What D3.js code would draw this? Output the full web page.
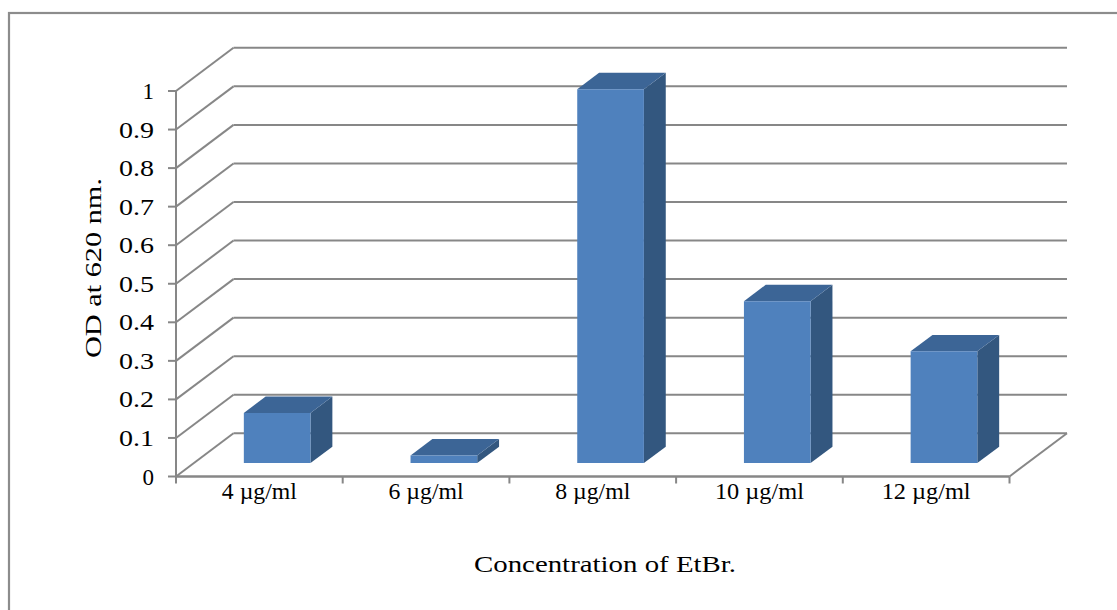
<!DOCTYPE html>
<html>
<head>
<meta charset="utf-8">
<script src="https://cdn.jsdelivr.net/npm/d3@7"></script>
<style>
  html, body { margin: 0; padding: 0; background: #fff; }
  svg { display: block; }
  text { font-family: "Liberation Serif", "Times New Roman", serif; fill: #000; }
</style>
</head>
<body>
<svg id="chart" width="1117" height="610"></svg>
<script>
// Data
const categories = ["4 µg/ml", "6 µg/ml", "8 µg/ml", "10 µg/ml", "12 µg/ml"];
const odValues = [0.13, 0.02, 0.97, 0.42, 0.29];
const yTicks = [0, 0.1, 0.2, 0.3, 0.4, 0.5, 0.6, 0.7, 0.8, 0.9, 1];
const yTickLabels = ["0", "0.1", "0.2", "0.3", "0.4", "0.5", "0.6", "0.7", "0.8", "0.9", "1"];
const xTitle = "Concentration of EtBr.";
const yTitle = "OD at 620 nm.";

const svg = d3.select("#chart");
const FS = 23;

// Front plane scales plus oblique depth offset
const x = d3.scaleBand().domain(categories).range([176, 1009.5]).paddingInner(0).paddingOuter(0);
const y = d3.scaleLinear().domain([0, 1]).range([476.5, 91]);
const DX = 57.5, DY = 43.2;
const proj = (px, py, d) => [px + d * DX, py - d * DY];

const gridColor = "#878787";
const axisColor = "#878787";

// Chart area border
svg.append("rect")
  .attr("x", 9).attr("y", 13)
  .attr("width", 1130).attr("height", 620)
  .attr("fill", "none").attr("stroke", "#8c8c8c").attr("stroke-width", 2.2);

const walls = svg.append("g");

// Back wall gridlines and left wall diagonals
yTicks.forEach(v => {
  const [bx0, by0] = proj(x.range()[0], y(v), 1);
  const [bx1] = proj(x.range()[1], y(v), 1);
  walls.append("line")
    .attr("x1", bx0).attr("y1", by0).attr("x2", bx1).attr("y2", by0)
    .attr("stroke", gridColor).attr("stroke-width", 2);
  walls.append("line")
    .attr("x1", x.range()[0]).attr("y1", y(v)).attr("x2", bx0).attr("y2", by0)
    .attr("stroke", gridColor).attr("stroke-width", 2);
});

// Floor right edge
{
  const [bx, by] = proj(x.range()[1], y(0), 1);
  walls.append("line")
    .attr("x1", x.range()[1]).attr("y1", y(0)).attr("x2", bx).attr("y2", by)
    .attr("stroke", gridColor).attr("stroke-width", 2);
}

// Bars (3D columns, centred in depth, 150% gap width)
const barW = x.bandwidth() * 0.4;
const d0 = 0.31, d1 = 0.69;
const barColors = { front: "#4f81bd", top: "#3c6596", side: "#33577f" };
const bars = svg.append("g");

categories.forEach((c, i) => {
  const v = odValues[i];
  const xl = x(c) + (x.bandwidth() - barW) / 2;
  const xr = xl + barW;
  const yt = y(v), yb = y(0);
  const f = (px, py, d) => proj(px, py, d).join(",");
  // side face
  bars.append("polygon")
    .attr("points", [f(xr, yt, d0), f(xr, yt, d1), f(xr, yb, d1), f(xr, yb, d0)].join(" "))
    .attr("fill", barColors.side);
  // top face
  bars.append("polygon")
    .attr("points", [f(xl, yt, d0), f(xl, yt, d1), f(xr, yt, d1), f(xr, yt, d0)].join(" "))
    .attr("fill", barColors.top);
  // front face
  bars.append("polygon")
    .attr("points", [f(xl, yt, d0), f(xr, yt, d0), f(xr, yb, d0), f(xl, yb, d0)].join(" "))
    .attr("fill", barColors.front);
});

// Vertical value axis on the front plane
const yAxisG = svg.append("g");
yAxisG.append("line")
  .attr("x1", 176).attr("y1", y(1) - 1).attr("x2", 176).attr("y2", y(0) + 1)
  .attr("stroke", axisColor).attr("stroke-width", 2);
yTicks.forEach((v, i) => {
  yAxisG.append("line")
    .attr("x1", 168).attr("y1", y(v)).attr("x2", 176).attr("y2", y(v))
    .attr("stroke", axisColor).attr("stroke-width", 2);
  const t = yAxisG.append("text")
    .attr("x", 154).attr("y", y(v))
    .attr("dy", "0.35em")
    .attr("text-anchor", "end")
    .attr("font-size", FS)
    .text(yTickLabels[i]);
  if (yTickLabels[i].length > 1) t.attr("textLength", 35).attr("lengthAdjust", "spacingAndGlyphs");
});

// Category axis on the front floor edge
const xAxisG = svg.append("g");
xAxisG.append("line")
  .attr("x1", 175).attr("y1", y(0)).attr("x2", x.range()[1]).attr("y2", y(0))
  .attr("stroke", axisColor).attr("stroke-width", 2.4);
const tickXs = categories.map(c => x(c)).concat([x.range()[1]]);
tickXs.forEach(tx => {
  xAxisG.append("line")
    .attr("x1", tx).attr("y1", y(0)).attr("x2", tx).attr("y2", y(0) + 7)
    .attr("stroke", axisColor).attr("stroke-width", 2);
});
categories.forEach(c => {
  xAxisG.append("text")
    .attr("x", x(c) + x.bandwidth() / 2)
    .attr("y", 499)
    .attr("text-anchor", "middle")
    .attr("font-size", FS)
    .attr("textLength", c.length > 7 ? 89 : 75)
    .attr("lengthAdjust", "spacingAndGlyphs")
    .text(c);
});

// Axis titles
svg.append("text")
  .attr("x", 605).attr("y", 572)
  .attr("text-anchor", "middle")
  .attr("font-size", FS)
  .attr("textLength", 262)
  .attr("lengthAdjust", "spacingAndGlyphs")
  .text(xTitle);

svg.append("text")
  .attr("transform", "translate(101,268) rotate(-90)")
  .attr("text-anchor", "middle")
  .attr("font-size", FS)
  .attr("textLength", 180)
  .attr("lengthAdjust", "spacingAndGlyphs")
  .text(yTitle);
</script>
</body>
</html>
